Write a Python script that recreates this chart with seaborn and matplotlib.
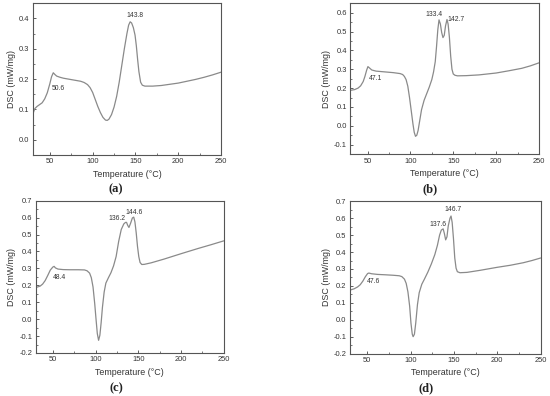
import matplotlib
matplotlib.use("Agg")
import matplotlib.pyplot as plt
import seaborn as sns
from matplotlib.ticker import AutoMinorLocator, MultipleLocator

# DSC curves (temperature in degC, DSC in mW/mg)
temp_a = [30, 31, 32.5, 35, 38, 41, 44, 47, 50, 52, 54, 56, 58, 62, 66, 72, 80, 86, 90, 94,
          97, 100, 103, 106, 109, 112, 115, 117, 119, 122, 125, 128, 131, 134, 137, 140, 142,
          143.8, 145.5, 147.5, 149.5, 151, 152.5, 154, 156, 158, 161, 170, 180, 190, 200,
          210, 220, 230, 240, 250]
dsc_a = [0.078, 0.092, 0.103, 0.110, 0.116, 0.122, 0.135, 0.155, 0.185, 0.208, 0.221, 0.215,
         0.210, 0.206, 0.203, 0.200, 0.196, 0.193, 0.189, 0.182, 0.172, 0.156, 0.133, 0.110,
         0.090, 0.074, 0.065, 0.064, 0.068, 0.083, 0.108, 0.143, 0.190, 0.245, 0.300, 0.350,
         0.378, 0.389, 0.385, 0.370, 0.345, 0.310, 0.265, 0.225, 0.190, 0.180, 0.177, 0.177,
         0.179, 0.183, 0.187, 0.193, 0.199, 0.206, 0.214, 0.223]

temp_b = [30, 35, 39, 42, 45, 47, 49, 50.5, 52, 55, 60, 70, 80, 88, 91, 93, 95, 97, 99, 101,
          103, 104.5, 106, 107.5, 109, 111, 113, 116, 119, 122, 125, 127, 129, 130.5, 132,
          133.4, 135, 136.5, 138, 139.5, 141, 142.7, 144, 145.5, 147, 148.5, 150, 152, 155,
          165, 180, 200, 215, 230, 240, 250]
dsc_b = [0.188, 0.192, 0.200, 0.212, 0.235, 0.262, 0.295, 0.314, 0.308, 0.296, 0.290, 0.286,
         0.282, 0.277, 0.272, 0.262, 0.245, 0.210, 0.150, 0.080, 0.010, -0.035, -0.056,
         -0.050, -0.025, 0.030, 0.085, 0.135, 0.170, 0.205, 0.245, 0.285, 0.340, 0.420,
         0.510, 0.562, 0.540, 0.495, 0.468, 0.480, 0.530, 0.564, 0.540, 0.470, 0.370, 0.300,
         0.275, 0.268, 0.265, 0.266, 0.270, 0.280, 0.292, 0.305, 0.318, 0.334]

temp_c = [30, 35, 38, 41, 44, 47, 50, 51.5, 53, 56, 62, 70, 80, 87, 90, 93, 95, 97, 99,
          100.5, 102, 103.5, 105, 106.5, 108, 110, 112, 115, 118, 121, 124, 127, 130, 133,
          135, 136.2, 137.5, 139, 141, 143, 144.6, 146, 147.5, 149, 150.5, 152, 154, 157,
          165, 180, 200, 220, 235, 250]
dsc_c = [0.187, 0.195, 0.207, 0.228, 0.258, 0.290, 0.308, 0.312, 0.303, 0.296, 0.293, 0.292,
         0.292, 0.291, 0.286, 0.272, 0.245, 0.190, 0.090, 0.000, -0.085, -0.125, -0.095,
         -0.020, 0.070, 0.160, 0.213, 0.245, 0.275, 0.315, 0.370, 0.460, 0.530, 0.563,
         0.572, 0.572, 0.555, 0.542, 0.568, 0.598, 0.603, 0.575, 0.510, 0.430, 0.370, 0.335,
         0.323, 0.324, 0.333, 0.355, 0.387, 0.418, 0.440, 0.463]

temp_d = [30, 35, 39, 42, 45, 48, 50.5, 52, 55, 62, 70, 80, 87, 90, 93, 95, 97, 99, 100.5,
          102, 103, 104.5, 106, 108, 110, 113, 116, 120, 124, 128, 131, 133.5, 135.5, 137.6,
          139, 140.5, 142, 143.5, 145.5, 146.7, 148, 149.5, 151, 152.5, 154, 157, 165, 180,
          200, 215, 230, 240, 250]
dsc_d = [0.175, 0.183, 0.194, 0.207, 0.228, 0.255, 0.273, 0.276, 0.272, 0.268, 0.266, 0.263,
         0.260, 0.255, 0.240, 0.215, 0.165, 0.080, -0.020, -0.085, -0.100, -0.085, -0.020,
         0.090, 0.160, 0.210, 0.240, 0.282, 0.330, 0.385, 0.440, 0.500, 0.530, 0.537, 0.510,
         0.472, 0.490, 0.555, 0.600, 0.613, 0.575, 0.480, 0.365, 0.305, 0.284, 0.278, 0.280,
         0.292, 0.310, 0.322, 0.337, 0.350, 0.365]

panel_names = ["(a)", "(b)", "(c)", "(d)"]
peak_labels = [["50.6", "143.8"], ["47.1", "133.4", "142.7"],
               ["48.4", "136.2", "144.6"], ["47.6", "137.6", "146.7"]]

sns.set_style("ticks")
plt.rcParams["font.family"] = ["Liberation Sans", "DejaVu Sans"]
plt.rcParams["axes.unicode_minus"] = False

fig = plt.figure(figsize=(5.5, 3.96), dpi=100)

boxes = [[0.0595, 0.6086, 0.3425, 0.3831],
         [0.6370, 0.6110, 0.3430, 0.3807],
         [0.0650, 0.1086, 0.3420, 0.3845],
         [0.6360, 0.1070, 0.3470, 0.3847]]
ylims = [(-0.05, 0.45), (-0.15, 0.65), (-0.2, 0.7), (-0.2, 0.7)]
ystarts = [0.0, -0.1, -0.2, -0.2]
curves = [(temp_a, dsc_a), (temp_b, dsc_b), (temp_c, dsc_c), (temp_d, dsc_d)]
# text anchor points (data coords) for the peak labels
label_pos = [[(60, 0.17), (149, 0.41)],
             [(59.7, 0.249), (127.4, 0.59), (152.7, 0.563)],
             [(57.8, 0.247), (124.5, 0.594), (144.5, 0.633)],
             [(57, 0.224), (132, 0.561), (148.7, 0.649)]]
caption_xy = [(116, 189), (430, 189), (116, 388), (426, 388)]

for i in range(4):
    ax = fig.add_axes(boxes[i])
    x, y = curves[i]
    sns.lineplot(x=x, y=y, ax=ax, color="#8a8a8a", lw=0.9)
    ax.set_xlim(30, 250)
    ax.set_ylim(*ylims[i])
    ax.set_yticks([t / 10 for t in range(int(round(ystarts[i] * 10)), 8) if t / 10 <= ylims[i][1]])
    ax.set_xticks([50, 100, 150, 200, 250])
    ax.yaxis.set_major_formatter(matplotlib.ticker.FormatStrFormatter("%.1f"))
    ax.xaxis.set_minor_locator(AutoMinorLocator(2))
    ax.yaxis.set_minor_locator(AutoMinorLocator(2))
    ax.tick_params(which="major", direction="in", length=2.5, width=0.6,
                   labelsize=5.4, pad=2.5, colors="#444444", labelcolor="#333333")
    ax.tick_params(which="minor", direction="in", length=1.5, width=0.5, colors="#444444")
    for s in ax.spines.values():
        s.set_visible(True)
        s.set_linewidth(0.8)
        s.set_color("#555555")
    ax.set_xlabel("Temperature (°C)", fontsize=6.4, color="#333333", labelpad=3)
    ax.set_ylabel("DSC (mW/mg)", fontsize=6.4, color="#333333", labelpad=2)
    for txt, (tx, ty) in zip(peak_labels[i], label_pos[i]):
        ax.text(tx, ty, txt, fontsize=4.9, ha="center", va="center", color="#333333")
    cx, cy = caption_xy[i]
    fig.text(cx / 550, 1 - cy / 396, panel_names[i], fontsize=9, ha="center", va="center",
             family=["Liberation Serif", "DejaVu Serif"], fontweight="bold", color="#222222")

fig.savefig("out.png", dpi=100)
